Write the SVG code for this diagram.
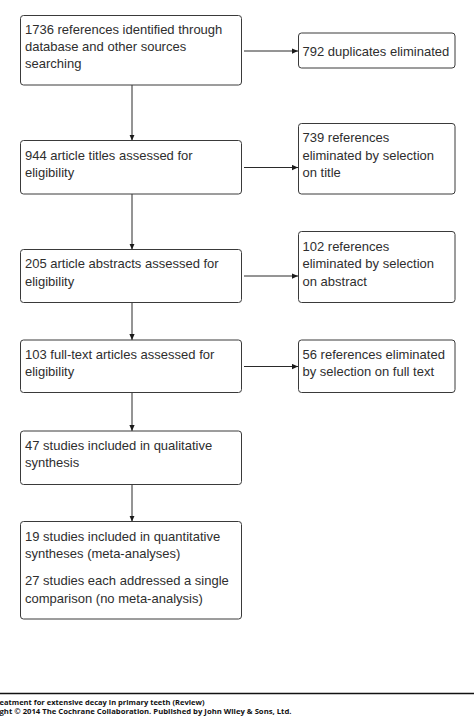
<svg xmlns="http://www.w3.org/2000/svg" width="474" height="717" viewBox="0 0 474 717">
<style>
.box{fill:#fff;stroke:#3a3a3a;stroke-width:1}
.t{font-family:"Liberation Sans",Arial,sans-serif;font-size:13px;fill:#2e2e2e}
.c{stroke:#2a2a2a;stroke-width:1;fill:none}
.f{font-family:"Open Sans","Liberation Sans",sans-serif;font-size:7.5px;font-weight:bold;fill:#111}
</style>
<defs>
<marker id="ah" viewBox="0 0 8 8" refX="8" refY="4" markerWidth="6" markerHeight="6" markerUnits="userSpaceOnUse" orient="auto">
<path d="M0,0.5 L8,4 L0,7.5 Z" fill="#1a1a1a"/>
</marker>
</defs>
<rect width="474" height="717" fill="#fff"/>
<g id="connectors">
<line class="c" x1="244" y1="51" x2="298" y2="51" marker-end="url(#ah)"/>
<line class="c" x1="244" y1="167.5" x2="298" y2="167.5" marker-end="url(#ah)"/>
<line class="c" x1="244" y1="276" x2="298" y2="276" marker-end="url(#ah)"/>
<line class="c" x1="244" y1="366.5" x2="298" y2="366.5" marker-end="url(#ah)"/>
<line class="c" x1="132" y1="85" x2="132" y2="140.5" marker-end="url(#ah)"/>
<line class="c" x1="132" y1="194" x2="132" y2="249.5" marker-end="url(#ah)"/>
<line class="c" x1="132" y1="302.5" x2="132" y2="340" marker-end="url(#ah)"/>
<line class="c" x1="132" y1="392.5" x2="132" y2="431" marker-end="url(#ah)"/>
<line class="c" x1="132" y1="484.5" x2="132" y2="521.5" marker-end="url(#ah)"/>
</g>
<g id="n1">
<rect class="box" x="20.5" y="15.5" width="221" height="69.5" rx="3"/>
<text class="t" x="25" y="34">1736 references identified through</text>
<text class="t" x="25" y="51">database and other sources</text>
<text class="t" x="25" y="68">searching</text>
</g>
<g id="n1r">
<rect class="box" x="298.5" y="33" width="156.5" height="35" rx="3"/>
<text class="t" x="302.5" y="55.5">792 duplicates eliminated</text>
</g>
<g id="n2">
<rect class="box" x="20.5" y="140.5" width="221" height="53.5" rx="3"/>
<text class="t" x="25" y="159.5">944 article titles assessed for</text>
<text class="t" x="25" y="177">eligibility</text>
</g>
<g id="n2r">
<rect class="box" x="298.5" y="123.5" width="156.5" height="70.5" rx="3"/>
<text class="t" x="302.5" y="142">739 references</text>
<text class="t" x="302.5" y="159.5">eliminated by selection</text>
<text class="t" x="302.5" y="177">on title</text>
</g>
<g id="n3">
<rect class="box" x="20.5" y="249.5" width="221" height="53" rx="3"/>
<text class="t" x="25" y="268">205 article abstracts assessed for</text>
<text class="t" x="25" y="285.5">eligibility</text>
</g>
<g id="n3r">
<rect class="box" x="298.5" y="231.5" width="156.5" height="71" rx="3"/>
<text class="t" x="302.5" y="250.5">102 references</text>
<text class="t" x="302.5" y="268">eliminated by selection</text>
<text class="t" x="302.5" y="285.5">on abstract</text>
</g>
<g id="n4">
<rect class="box" x="20.5" y="340" width="221" height="52.5" rx="3"/>
<text class="t" x="25" y="358.5">103 full-text articles assessed for</text>
<text class="t" x="25" y="376">eligibility</text>
</g>
<g id="n4r">
<rect class="box" x="298.5" y="340" width="156.5" height="52.5" rx="3"/>
<text class="t" x="302.5" y="358.5">56 references eliminated</text>
<text class="t" x="302.5" y="376">by selection on full text</text>
</g>
<g id="n5">
<rect class="box" x="20.5" y="431" width="221" height="53.5" rx="3"/>
<text class="t" x="25" y="449.5">47 studies included in qualitative</text>
<text class="t" x="25" y="467">synthesis</text>
</g>
<g id="n6">
<rect class="box" x="20.5" y="521.5" width="221" height="97.5" rx="3"/>
<text class="t" x="25" y="540.5">19 studies included in quantitative</text>
<text class="t" x="25" y="558">syntheses (meta-analyses)</text>
<text class="t" x="25" y="585">27 studies each addressed a single</text>
<text class="t" x="25" y="602.5">comparison (no meta-analysis)</text>
</g>
<g id="footer">
<line x1="0" y1="693.5" x2="474" y2="693.5" stroke="#111" stroke-width="1.3"/>
<text class="f" x="-0.5" y="704.5" textLength="205" lengthAdjust="spacingAndGlyphs">eatment for extensive decay in primary teeth (Review)</text>
<text class="f" x="-0.5" y="714" textLength="292" lengthAdjust="spacingAndGlyphs">ght © 2014 The Cochrane Collaboration. Published by John Wiley &amp; Sons, Ltd.</text>
</g>
</svg>
